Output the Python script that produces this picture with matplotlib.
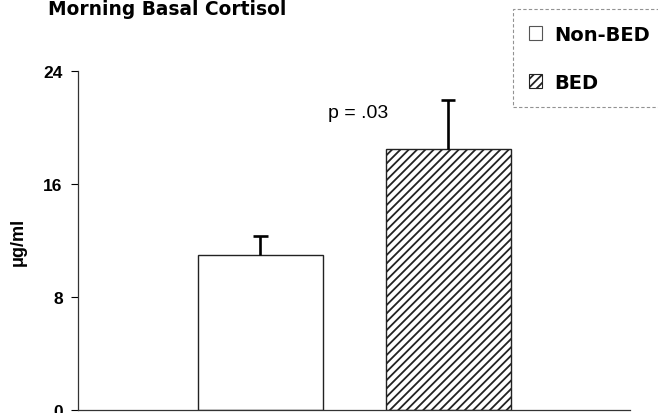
import matplotlib
matplotlib.use("Agg")
import matplotlib.pyplot as plt
from matplotlib.patches import Patch

plt.rcParams['font.family'] = ['Liberation Sans', 'DejaVu Sans']
plt.rcParams['hatch.linewidth'] = 1.3

groups = ["Non-BED", "BED"]
means = [10.97, 18.48]
sem = [1.35, 3.47]
hatches = ["", "////"]
yticks = [0, 8, 16, 24]
p_label = "p = .03"

fig = plt.figure(figsize=(6.58, 4.14), dpi=100)
ax = fig.add_axes([78 / 658, 1 - 411 / 414, (630 - 78) / 658, (411 - 72) / 414])

x = [0, 1]
ax.bar(x, means, width=0.667, color="white", edgecolor="#222222",
       linewidth=1.0, hatch=hatches, zorder=2)

# upper-only error bars with a cap
tops = [m + s for m, s in zip(means, sem)]
ax.vlines(x, means, tops, colors="black", linewidth=1.9, zorder=3)
ax.hlines(tops, [xi - 0.038 for xi in x], [xi + 0.038 for xi in x],
          colors="black", linewidth=1.9, zorder=3)

ax.set_xlim(-0.973, 1.97)
ax.set_ylim(0, 24)
ax.set_yticks(yticks)
ax.set_yticklabels([str(t) for t in yticks], fontsize=12.5, fontweight="bold")
ax.set_xticks([])
ax.tick_params(axis="y", direction="out", length=5, width=0.8, pad=6)
for s in ("top", "right"):
    ax.spines[s].set_visible(False)
for s in ("left", "bottom"):
    ax.spines[s].set_linewidth(0.9)
    ax.spines[s].set_color("#333333")

ax.set_ylabel("μg/ml", fontsize=13, fontweight="bold")
ax.yaxis.set_label_coords(-0.092, 0.5)
ax.text(0.36, 20.74, p_label, fontsize=14, ha="left", va="baseline")

fig.text(48 / 658, 1 - 15 / 414, "Morning Basal Cortisol", fontsize=13.4,
         fontweight="bold", family="DejaVu Sans", ha="left", va="baseline")

handles = [Patch(facecolor="white", edgecolor="#555555", linewidth=0.8, label=groups[0]),
           Patch(facecolor="white", edgecolor="#222222", linewidth=0.8, hatch="////", label=groups[1])]
leg = fig.legend(handles=handles, loc="upper left", bbox_to_anchor=(513 / 658, 1 - 10 / 414),
                 prop={"weight": "bold", "size": 14, "family": "DejaVu Sans"},
                 handlelength=0.7, handleheight=0.7, handletextpad=0.6,
                 labelspacing=1.5, borderpad=0.8, borderaxespad=0, fancybox=False,
                 frameon=True)
frame = leg.get_frame()
frame.set_linestyle((0, (3, 2)))
frame.set_edgecolor("#777777")
frame.set_linewidth(0.8)

fig.savefig("out.png", dpi=100)
